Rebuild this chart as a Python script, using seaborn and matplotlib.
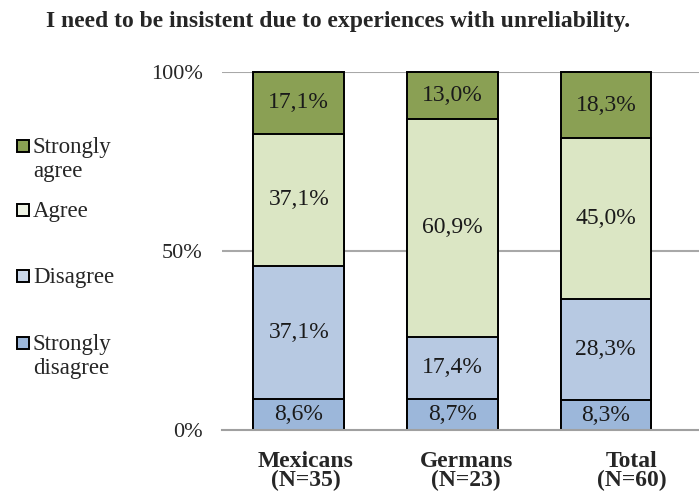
import matplotlib
matplotlib.use("Agg")
import matplotlib.pyplot as plt
import matplotlib.transforms as mtransforms
import seaborn as sns
import numpy as np
import pandas as pd
from matplotlib.patches import Rectangle

categories = ["Mexicans\n(N=35)", "Germans\n(N=23)", "Total\n(N=60)"]
levels = ["Strongly disagree", "Disagree", "Agree", "Strongly agree"]
legend_labels = [["Strongly", "disagree"], ["Disagree"], ["Agree"], ["Strongly", "agree"]]
strongly_disagree = [8.6, 8.7, 8.3]
disagree = [37.1, 17.4, 28.3]
agree = [37.1, 60.9, 45.0]
strongly_agree = [17.1, 13.0, 18.3]
colors = ["#9cb7da", "#b7c9e2", "#dbe6c4", "#8aa054"]
legend_colors = ["#9cb7da", "#c9d7ea", "#eef3e4", "#8aa054"]
yticks = [0, 50, 100]
ytick_labels = ["0%", "50%", "100%"]
title = "I need to be insistent due to experiences with unreliability."

sns.set_style("white")
plt.rcParams["font.family"] = ["Liberation Serif", "DejaVu Serif"]

series = [strongly_disagree, disagree, agree, strongly_agree]
cum = np.cumsum(np.array(series), axis=0)

fig = plt.figure(figsize=(6.99, 4.99), dpi=100)
ax = fig.add_axes([222 / 699, 1 - 430 / 499, 1 - 222 / 699, (430 - 72) / 499])

# draw from top cumulative down so lower segments overlay
for i in range(len(levels) - 1, -1, -1):
    df = pd.DataFrame({"cat": categories, "val": cum[i]})
    sns.barplot(data=df, x="cat", y="val", color=colors[i], width=0.59,
                edgecolor="black", linewidth=1.4, saturation=1, ax=ax,
                order=categories)

for p in ax.patches:
    p.set_clip_on(False)

for i in range(len(levels)):
    for j in range(len(categories)):
        bottom = cum[i][j] - series[i][j]
        ax.text(j, bottom + series[i][j] / 2, f"{series[i][j]:.1f}%".replace(".", ","),
                ha="center", va="center", fontsize=17, color="#1a1a1a")

ax.set_ylim(0, 100)
ax.set_xlim(-0.5, 2.607)
ax.set_yticks(yticks)
ax.set_yticklabels(ytick_labels, fontsize=16)
ax.set_xticks(range(len(categories)))
ax.set_xticklabels(categories, fontsize=17, fontweight="bold", linespacing=0.88)
ax.tick_params(axis="x", length=0, pad=15)
ax.tick_params(axis="y", length=0, pad=14)
ax.set_xticks([-0.5, 0.5, 1.5], minor=True)
ax.tick_params(axis="x", which="minor", length=6, color="#a0a0a0", width=1.2)
ax.set_xlabel("")
ax.set_ylabel("")

# label offsets as in the reference (labels sit slightly right of bars)
for lbl, dx in zip(ax.get_xticklabels(), [7, 14, 26]):
    lbl.set_transform(lbl.get_transform() +
                      mtransforms.ScaledTranslation(dx / 100, 0, fig.dpi_scale_trans))

for y in [50, 100]:
    ax.axhline(y, color="#a8a8a8", lw=1.5, zorder=0)
for s in ["top", "right", "left"]:
    ax.spines[s].set_visible(False)
ax.spines["bottom"].set_color("#a0a0a0")
ax.spines["bottom"].set_linewidth(1.5)
ax.set_axisbelow(True)

fig.text(338 / 699, 1 - 27 / 499, title, ha="center", va="baseline",
         fontsize=17, fontweight="bold")

# manual legend (baselines of first lines, top to bottom: SA, Agree, Disagree, SD)
baselines = [350, 283, 217, 153]
for i in range(len(levels)):
    b = baselines[i]
    fig.add_artist(Rectangle((17 / 699, 1 - (b - 1) / 499), 12 / 699, 12 / 499,
                             transform=fig.transFigure, facecolor=legend_colors[i],
                             edgecolor="black", linewidth=1.4))
    for k, line in enumerate(legend_labels[i]):
        fig.text(33 / 699, 1 - (b + 24 * k) / 499, line, ha="left", va="baseline",
                 fontsize=16.5)

fig.savefig("out.png", dpi=100)
